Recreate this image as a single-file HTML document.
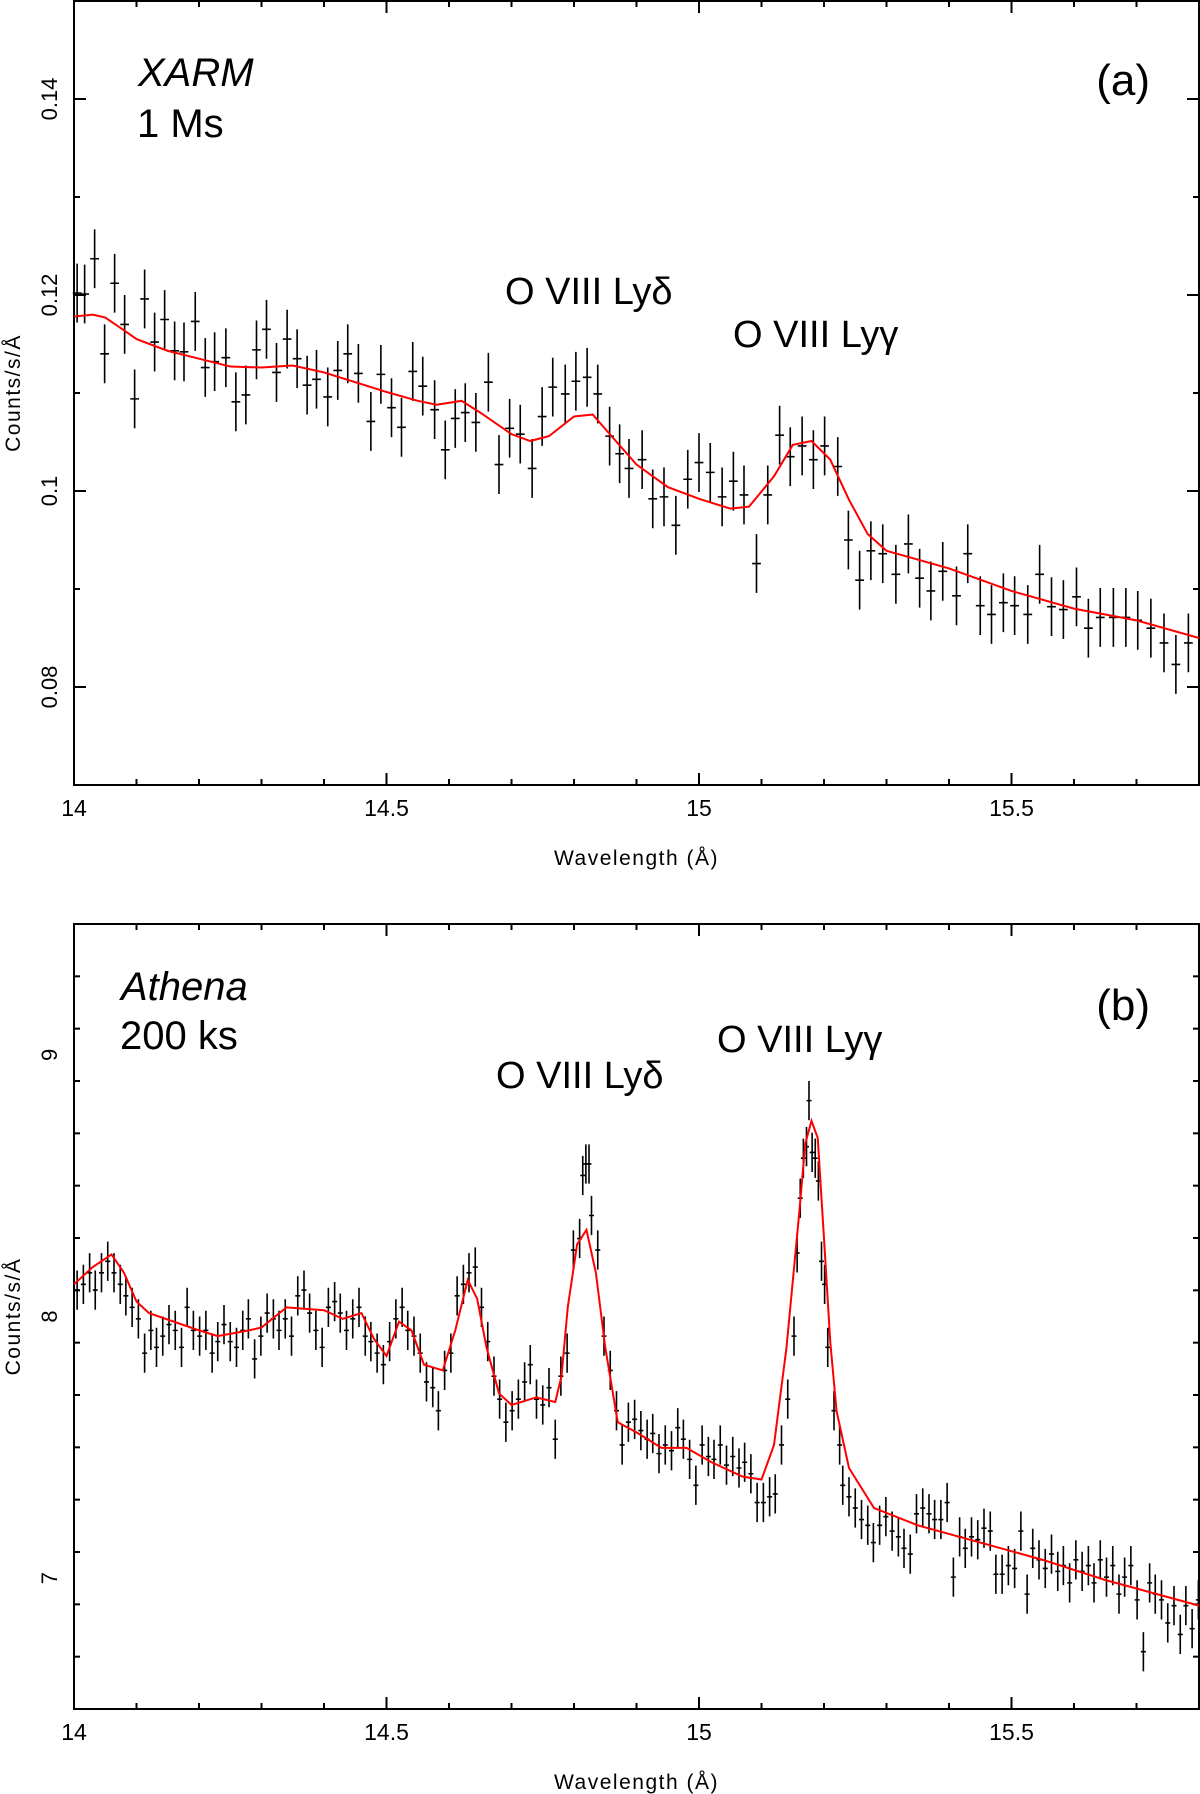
<!DOCTYPE html>
<html><head><meta charset="utf-8"><style>
html,body{margin:0;padding:0;background:#fff;}
svg{display:block;}
text{font-family:"Liberation Sans",sans-serif;fill:#000;}
</style></head><body>
<svg id="chart" width="1200" height="1794" viewBox="0 0 1200 1794" xmlns="http://www.w3.org/2000/svg">
<g id="pa"></g>
<g id="pb"></g>
<text x="138" y="86" font-size="40" font-style="italic">XARM</text>
<text x="137" y="137" font-size="40">1 Ms</text>
<text x="1150" y="95" font-size="44" text-anchor="end">(a)</text>
<text x="505" y="304" font-size="38">O VIII Lyδ</text>
<text x="733" y="347" font-size="38">O VIII Lyγ</text>
<text x="121" y="1000" font-size="40" font-style="italic">Athena</text>
<text x="120" y="1049" font-size="40">200 ks</text>
<text x="1150" y="1020" font-size="44" text-anchor="end">(b)</text>
<text x="496" y="1088" font-size="38">O VIII Lyδ</text>
<text x="717" y="1052" font-size="38">O VIII Lyγ</text>
</svg>
<script>
// ---- Panel (a) data ----
const aDataX=[14.005,14.017,14.033,14.049,14.065,14.081,14.097,14.113,14.129,14.145,
14.161,14.176,14.194,14.210,14.225,14.243,14.259,14.275,14.292,14.308,
14.324,14.341,14.357,14.373,14.388,14.406,14.422,14.438,14.455,14.475,
14.491,14.508,14.524,14.542,14.558,14.577,14.594,14.610,14.626,14.643,
14.663,14.680,14.697,14.714,14.733,14.749,14.766,14.786,14.803,14.821,
14.838,14.857,14.873,14.888,14.909,14.926,14.944,14.963,14.982,15.000,
15.018,15.037,15.055,15.072,15.092,15.110,15.129,15.146,15.165,15.183,
15.201,15.222,15.239,15.257,15.275,15.294,15.315,15.335,15.353,15.371,
15.390,15.412,15.430,15.450,15.468,15.487,15.505,15.526,15.545,15.564,
15.583,15.604,15.623,15.642,15.663,15.683,15.702,15.723,15.744,15.763,15.783];
const aDataY=[0.1202,0.1201,0.1237,0.1140,0.1212,0.1170,0.1094,0.1196,0.1152,0.1175,
0.1143,0.1142,0.1173,0.1126,0.1132,0.1136,0.1091,0.1098,0.1144,0.1165,
0.1121,0.1155,0.1135,0.1108,0.1114,0.1096,0.1123,0.1140,0.1120,0.1071,
0.1119,0.1085,0.1065,0.1122,0.1107,0.1083,0.1042,0.1074,0.1080,0.1070,
0.1111,0.1027,0.1064,0.1058,0.1023,0.1076,0.1106,0.1099,0.1112,0.1116,
0.1099,0.1056,0.1038,0.1023,0.1032,0.0992,0.0994,0.0965,0.1012,0.1029,
0.1019,0.0994,0.1010,0.0996,0.0926,0.0996,0.1057,0.1035,0.1046,0.1032,
0.1046,0.1025,0.0950,0.0909,0.0939,0.0936,0.0915,0.0946,0.0911,0.0898,
0.0918,0.0893,0.0936,0.0883,0.0874,0.0886,0.0883,0.0874,0.0915,0.0882,
0.0879,0.0892,0.0860,0.0871,0.0871,0.0871,0.0868,0.0860,0.0845,0.0823,0.0845];
const aModelX=[14.00,14.03,14.05,14.08,14.10,14.15,14.20,14.25,14.30,14.35,14.40,14.45,14.50,14.55,14.58,14.62,14.65,14.70,14.73,14.76,14.80,14.83,14.86,14.90,14.95,15.00,15.05,15.08,15.12,15.15,15.18,15.21,15.24,15.27,15.30,15.35,15.40,15.50,15.60,15.70,15.80];
const aModelY=[0.1178,0.1180,0.1177,0.1164,0.1155,0.1143,0.1135,0.1127,0.1126,0.1128,0.1121,0.1111,0.1101,0.1092,0.1088,0.1092,0.1080,0.1058,0.1051,0.1056,0.1076,0.1078,0.1056,0.1027,0.1004,0.0992,0.0982,0.0984,0.1015,0.1047,0.1051,0.1032,0.0991,0.0956,0.0939,0.0930,0.0921,0.0898,0.0880,0.0868,0.0850];
const aYTicks=[0.08,0.1,0.12,0.14];
const aYTickLabels=["0.08","0.1","0.12","0.14"];
// ---- Panel (b) data ----
const bDataX=[14.005,14.015,14.025,14.034,14.044,14.054,14.064,14.074,14.083,14.093,14.103,
14.113,14.123,14.132,14.142,14.152,14.162,14.172,14.181,14.191,14.201,14.211,14.221,14.230,14.240,14.250,14.260,14.270,14.279,14.289,14.299,
14.309,14.319,14.328,14.338,14.348,14.358,14.368,14.377,14.387,14.397,14.407,14.417,14.426,14.436,14.446,14.456,14.466,14.475,14.485,14.495,
14.505,14.515,14.525,14.534,14.544,14.554,14.564,14.574,14.583,14.593,14.603,14.613,14.623,14.632,14.642,14.652,14.662,14.672,14.681,14.691,14.701,
14.711,14.721,14.730,14.740,14.750,14.760,14.770,14.779,14.789,14.799,14.809,14.814,14.819,14.824,14.828,14.838,14.848,14.858,14.868,14.877,14.887,
14.897,14.907,14.917,14.926,14.936,14.946,14.956,14.966,14.975,14.985,14.995,15.005,15.015,15.024,15.034,15.044,15.054,15.064,15.073,15.083,15.093,15.103,15.113,15.122,
15.132,15.142,15.152,15.157,15.162,15.167,15.172,15.176,15.181,15.186,15.191,15.196,15.201,15.206,15.216,15.225,15.230,15.240,15.250,15.260,15.270,15.279,15.289,15.299,15.309,15.319,15.328,15.338,15.348,
15.358,15.368,15.377,15.387,15.397,15.407,15.417,15.426,15.436,15.446,15.456,15.466,15.475,15.485,15.495,15.505,15.515,15.525,15.534,15.544,15.554,15.564,15.574,15.583,15.593,15.603,15.613,15.623,15.632,15.642,15.652,15.662,15.672,15.681,15.691,15.701,15.711,15.721,15.730,15.740,15.750,15.760,15.770,15.779,15.789,15.799];
const bDataY=[8.101,8.123,8.167,8.101,8.167,8.211,8.167,8.123,8.079,8.035,7.991,
7.860,7.947,7.882,7.925,7.969,7.947,7.882,8.035,7.947,7.925,7.947,7.860,7.904,7.969,7.904,7.882,7.947,7.991,7.838,7.925,
8.013,7.991,7.947,7.991,7.925,8.079,8.101,8.013,7.947,7.882,8.035,8.057,8.013,7.947,7.991,8.035,7.925,7.904,7.860,7.816,
7.904,7.991,8.035,7.947,7.925,7.860,7.750,7.728,7.640,7.794,7.860,8.079,8.123,8.167,8.189,8.035,7.904,7.772,7.684,7.596,7.640,
7.684,7.750,7.816,7.684,7.662,7.728,7.531,7.772,7.860,8.254,8.298,8.539,8.583,8.583,8.386,8.254,7.925,7.794,7.640,7.509,7.596,
7.607,7.564,7.531,7.553,7.476,7.509,7.487,7.575,7.531,7.454,7.355,7.509,7.465,7.454,7.509,7.432,7.465,7.421,7.443,7.399,7.289,7.289,7.311,7.322,
7.509,7.684,7.925,8.243,8.452,8.605,8.649,8.825,8.627,8.605,8.518,8.211,8.123,7.882,7.640,7.509,7.355,7.311,7.268,7.224,7.202,7.136,7.202,7.235,7.180,7.158,7.114,7.092,7.246,
7.268,7.246,7.224,7.224,7.289,7.004,7.158,7.114,7.158,7.147,7.191,7.180,7.015,7.015,7.048,7.037,7.180,6.939,7.114,7.070,7.037,7.092,7.026,7.048,6.982,7.070,7.026,7.048,6.982,7.070,7.004,7.048,6.939,7.004,7.048,6.917,6.719,6.982,6.939,6.917,6.829,6.895,6.785,6.895,6.807,6.917];
const bModelX=[14.00,14.03,14.06,14.08,14.10,14.12,14.20,14.23,14.28,14.30,14.34,14.40,14.43,14.46,14.48,14.50,14.52,14.54,14.56,14.59,14.61,14.63,14.645,14.66,14.68,14.70,14.74,14.77,14.78,14.79,14.805,14.82,14.835,14.85,14.87,14.90,14.94,14.98,15.02,15.07,15.10,15.12,15.14,15.16,15.17,15.18,15.19,15.20,15.21,15.22,15.24,15.28,15.35,15.45,15.55,15.65,15.80];
const bModelY=[8.123,8.189,8.237,8.167,8.057,8.013,7.947,7.925,7.947,7.958,8.035,8.024,7.991,8.013,7.914,7.849,7.980,7.947,7.816,7.794,7.947,8.140,8.068,7.882,7.706,7.662,7.691,7.673,7.772,8.035,8.276,8.331,8.167,7.882,7.596,7.557,7.498,7.498,7.443,7.388,7.377,7.509,7.882,8.386,8.660,8.748,8.682,8.298,7.904,7.640,7.421,7.268,7.202,7.136,7.070,6.993,6.895];
const bYTicks=[7,8,9];
const bYTickLabels=["7","8","9"];
const xTicks=[14,14.5,15,15.5];
const xTickLabels=["14","14.5","15","15.5"];

const NS="http://www.w3.org/2000/svg";
function mk(parent,tag,attrs){const e=document.createElementNS(NS,tag);for(const k in attrs)e.setAttribute(k,attrs[k]);parent.appendChild(e);return e;}

function panel(g,o){
  const X=v=>o.left+(v-14)/(15.8-14)*(o.right-o.left);
  const Y=v=>o.bottom-(v-o.ymin)/(o.ymax-o.ymin)*(o.bottom-o.top);
  const fr=mk(g,'rect',{x:o.left,y:o.top,width:o.right-o.left,height:o.bottom-o.top,fill:'none',stroke:'#000','stroke-width':2});
  
  
  for(let i=0;i<=18;i++){
    const v=14+i*0.1, x=X(v), L=(i%5===0)?12:6;
    const t1=mk(g,'line',{x1:x,y1:o.bottom,x2:x,y2:o.bottom-L,stroke:'#000','stroke-width':2});
    
    
    const t2=mk(g,'line',{x1:x,y1:o.top,x2:x,y2:o.top+L,stroke:'#000','stroke-width':2});
    
    
  }
  xTicks.forEach((v,i)=>{
    const t=mk(g,'text',{x:X(v),y:o.bottom+31,'font-size':23,'text-anchor':'middle'});
    t.textContent=xTickLabels[i];
    
    
  });
  const n=Math.round((o.ymax-o.ymin)/o.minor);
  for(let i=0;i<=n;i++){
    const v=o.ymin+i*o.minor, y=Y(v);
    const major=o.yt.some(t=>Math.abs(t-v)<o.minor/10), L=major?12:6;
    const t1=mk(g,'line',{x1:o.left,y1:y,x2:o.left+L,y2:y,stroke:'#000','stroke-width':2});
    
    
    const t2=mk(g,'line',{x1:o.right,y1:y,x2:o.right-L,y2:y,stroke:'#000','stroke-width':2});
    
    
  }
  o.yt.forEach((v,i)=>{
    const y=Y(v);
    const t=mk(g,'text',{x:0,y:0,'font-size':22,'text-anchor':'middle',transform:`translate(57,${y}) rotate(-90)`});
    t.textContent=o.ytl[i];
    
    
  });
  const yt=mk(g,'text',{x:0,y:0,'font-size':21,'letter-spacing':'1.5','text-anchor':'middle',transform:`translate(20,${(o.top+o.bottom)/2}) rotate(-90)`});
  yt.textContent='Counts/s/Å';
  
  
  const xt=mk(g,'text',{x:(o.left+o.right)/2,y:o.bottom+80,'font-size':21,'letter-spacing':'1.5','text-anchor':'middle'});
  xt.textContent='Wavelength (Å)';
  
  
  o.dx.forEach((xv,i)=>{
    const yv=o.dy[i]; if(yv===undefined)return;
    const c=mk(g,'path',{d:`M${X(xv-o.ex)},${Y(yv)}H${X(xv+o.ex)}M${X(xv)},${Y(yv-o.ey)}V${Y(yv+o.ey)}`,stroke:'#000','stroke-width':1.6,fill:'none'});
    
    
  });
  let d=`M${X(o.mx[0])},${Y(o.my[0])}`;
  for(let i=1;i<o.mx.length;i++){ d+=`L${X(o.mx[i])},${Y(o.my[i])}`; }
  const m=mk(g,'path',{d:d,stroke:'#ff0000','stroke-width':2,fill:'none'});
  
  
}
panel(document.getElementById('pa'),{left:74,right:1199,top:1,bottom:785,ymin:0.07,ymax:0.15,minor:0.01,yt:aYTicks,ytl:aYTickLabels,dx:aDataX,dy:aDataY,mx:aModelX,my:aModelY,ex:0.007,ey:0.003});
panel(document.getElementById('pb'),{left:74,right:1199,top:924,bottom:1709,ymin:6.5,ymax:9.5,minor:0.2,yt:bYTicks,ytl:bYTickLabels,dx:bDataX,dy:bDataY,mx:bModelX,my:bModelY,ex:0.004,ey:0.075});
</script>
</body></html>
